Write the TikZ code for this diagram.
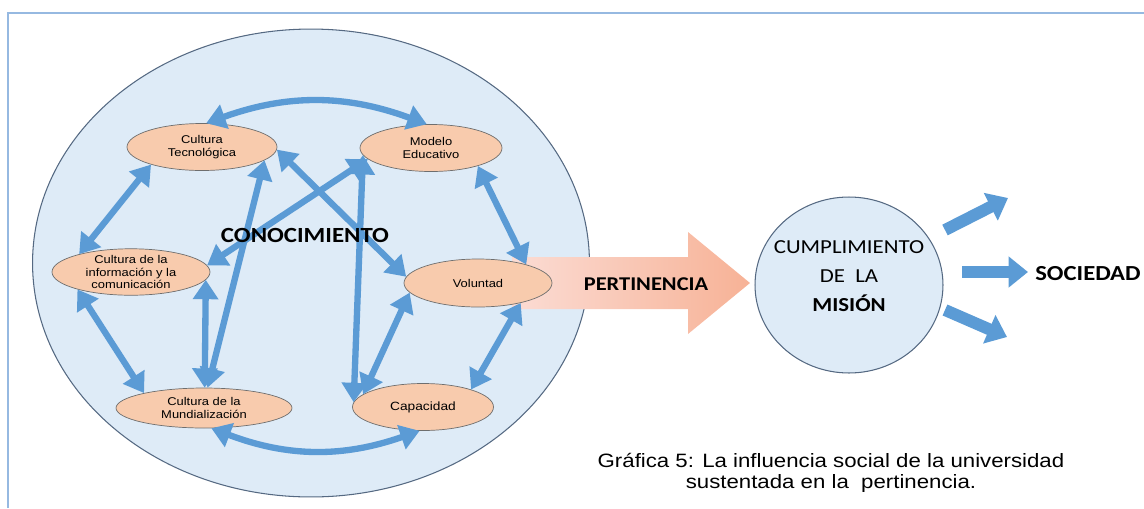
\documentclass[tikz,border=0pt]{standalone}
\usepackage{fontspec}
\setmainfont{Liberation Sans}[FakeStretch=1.15]
\newfontfamily\calibri{Carlito}[FakeStretch=1.15]
\usepackage{tikz}
\usetikzlibrary{arrows.meta,shapes.geometric}

\definecolor{marco}{RGB}{150,185,225}
\definecolor{saberfill}{RGB}{222,235,247}
\definecolor{saberline}{RGB}{85,105,130}
\definecolor{ideafill}{RGB}{248,203,173}
\definecolor{idealine}{RGB}{110,110,110}
\definecolor{flecha}{RGB}{91,155,213}
\definecolor{pertA}{RGB}{251,220,212}
\definecolor{pertB}{RGB}{247,178,150}

\begin{document}
\begin{tikzpicture}[x=0.02cm, y=-0.02cm,
  idea/.style={ellipse, draw=idealine, fill=ideafill, inner sep=0pt, align=center,
    font=\fontsize{6.4}{7}\selectfont},
  link/.style={draw=flecha, line width=3.6pt, >={Triangle[length=11pt,width=14pt]}, <->},
  bloque/.style={draw=flecha, line width=6.8pt, -{Triangle[length=11pt,width=17pt]}}]
  \useasboundingbox (0,0) rectangle (1144,508);
  % Frame
  \draw[marco, line width=0.8pt] (8,508) -- (8,13) -- (1144,13);
  % Knowledge circle
  \node[ellipse, draw=saberline, fill=saberfill, line width=0.6pt,
    minimum width=11.14cm, minimum height=9.36cm] (saber) at (311,263) {};
  % Pertinence arrow
  \shade[left color=pertA, right color=pertB]
    (512,257) -- (688,257) -- (688,232) -- (750,283) -- (688,334) -- (688,309) -- (512,309) -- cycle;
  % Ideas
  \node[idea, minimum width=3cm, minimum height=0.94cm] (tec) at (202,147) {Cultura\\Tecnológica};
  \node[idea, minimum width=2.84cm, minimum height=0.94cm] (mod) at (431,148) {Modelo\\Educativo};
  \node[idea, minimum width=3.16cm, minimum height=0.8cm] (inf) at (131,272)
    {Cultura de la\\información y la\\comunicación};
  \node[idea, minimum width=2.96cm, minimum height=0.96cm] (vol) at (478,283) {Voluntad};
  \node[idea, minimum width=3.52cm, minimum height=0.8cm] (mun) at (204,408)
    {Cultura de la\\Mundialización};
  \node[idea, minimum width=2.82cm, minimum height=0.94cm, font=\fontsize{6.8}{7}\selectfont]
    (cap) at (423,407) {Capacidad};
  % Ring of links
  \draw[link] (tec.80) to[bend left=20] (mod.100);
  \draw[link] (tec.199) -- (inf.161);
  \draw[link] (inf.198) -- (mun.166);
  \draw[link] (mun.290) to[bend right=20] (cap.262);
  \draw[link] (cap.20) -- (vol.335);
  \draw[link] (vol.21) -- (mod.339);
  % Cross links
  \draw[link] (mod.190) -- (inf.5);
  \draw[link] (tec.358) -- (vol.175);
  \draw[link] (tec.348) -- (mun.80);
  \draw[link] (inf.354) -- (mun.88);
  \draw[link] (mod.186) -- (cap.176);
  \draw[link] (cap.168) -- (vol.188);
  % Labels
  \node[font=\calibri\bfseries\fontsize{12.3}{14}\selectfont] (con) at (305,235) {CONOCIMIENTO};
  \node[font=\calibri\bfseries\fontsize{11.1}{13}\selectfont] (per) at (646,284) {PERTINENCIA};
  % Mission
  \node[ellipse, draw=saberline, fill=saberfill, line width=0.6pt, inner sep=0pt,
    minimum width=3.76cm, minimum height=3.52cm] (mision) at (849,285) {};
  \node[align=center, font=\calibri\fontsize{11.3}{16.3}\selectfont] (mistext) at (849,276)
    {CUMPLIMIENTO\\DE\ \ LA\\\textbf{MISIÓN}};
  \node[font=\calibri\bfseries\fontsize{12.2}{14}\selectfont] (soc) at (1088,274) {SOCIEDAD};
  \coordinate (s1) at (945,230);
  \coordinate (e1) at (1008,198);
  \coordinate (s2) at (962,272);
  \coordinate (e2) at (1028,272);
  \coordinate (s3) at (945,310);
  \coordinate (e3) at (1007,337);
  \draw[bloque] (s1) -- (e1);
  \draw[bloque] (s2) -- (e2);
  \draw[bloque] (s3) -- (e3);
  % Caption
  \node[align=center, font=\fontsize{11}{12}\selectfont] (pie) at (831,473)
    {Gráfica 5: La influencia social de la universidad\\sustentada en la\ \ pertinencia.};
\end{tikzpicture}
\end{document}
